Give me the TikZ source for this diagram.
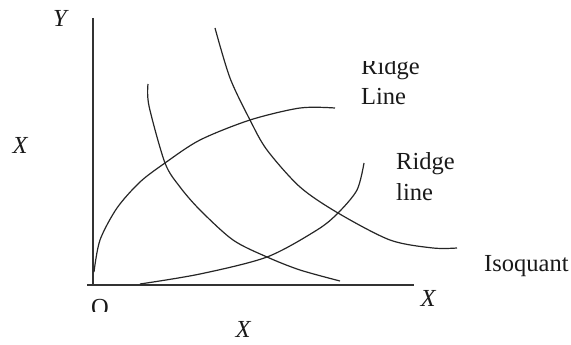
\documentclass[tikz,border=0pt]{standalone}
\usepackage{fontspec}
\setmainfont{Liberation Serif}
\begin{document}
\begin{tikzpicture}[x=1pt,y=-1pt,
  curve/.style={line width=1.2pt,black!85},
  axis/.style={line width=1.5pt,black!80},
  lbl/.style={inner sep=0pt,font=\fontsize{24.5}{26}\selectfont,text=black!90},
  ilbl/.style={lbl,font=\fontsize{24.5}{26}\selectfont\itshape}]
\useasboundingbox (0,0) rectangle (571,345);
% axes
\coordinate (top) at (93,18);
\coordinate (orig) at (93,285);
\coordinate (xend) at (414,285);
\coordinate (xstart) at (87,285);
\draw[axis] (top) -- (orig);
\draw[axis] (xstart) -- (xend);
% upper ridge line
\draw[curve] plot[smooth] coordinates {(94,272) (100,240) (117,208) (140,182) (165,163) (200,140) (250,120) (300,108) (335,108)};
% lower ridge line
\draw[curve] plot[smooth] coordinates {(140,284) (200,274) (267,257) (317,230) (338,213) (357,190) (364,163)};
% inner isoquant
\draw[curve] plot[smooth] coordinates {(148,84) (149,106) (165,163) (180,187) (200,210) (233,240) (267,257) (300,270) (340,281)};
% outer isoquant
\draw[curve] plot[smooth] coordinates {(215,28) (230,78) (250,120) (267,150) (300,187) (338,213) (390,240) (433,248) (457,248)};
% labels
\node[ilbl] (ylab) at (60,18) {Y};
\node[ilbl] (xlab) at (20,145) {X};
\node[lbl] (olab) at (100,308) {O};
\fill[white] (85,312) rectangle (115,330);
\node[ilbl] (xax) at (428,298) {X};
\node[ilbl] (xbot) at (243,329) {X};
\node[lbl,anchor=west] (r1a) at (361,69) {Ridge};
\node[lbl,anchor=west] (r1b) at (361,97) {Line};
\fill[white] (355,40) rectangle (440,61);
\node[lbl,anchor=west] (r2a) at (396,164) {Ridge};
\node[lbl,anchor=west] (r2b) at (396,192) {line};
\node[lbl,anchor=west] (iso) at (484,266) {Isoquant};
\end{tikzpicture}
\end{document}
